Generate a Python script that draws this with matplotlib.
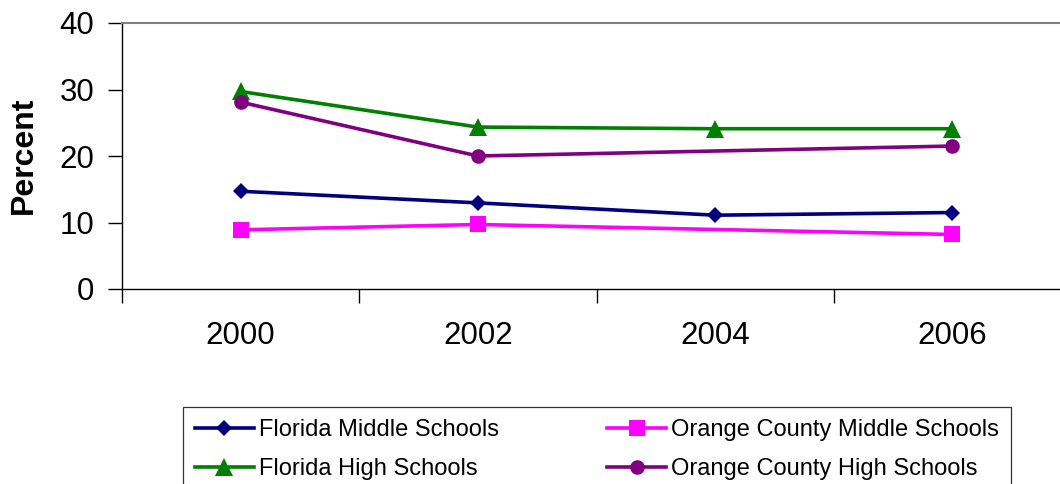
import numpy as np
import matplotlib
matplotlib.use("Agg")
import matplotlib.pyplot as plt

plt.rcParams['font.family'] = ['Liberation Sans', 'DejaVu Sans']

years = ['2000', '2002', '2004', '2006']
fl_middle = [14.7, 12.95, 11.1, 11.5]
oc_middle = [8.9, 9.7, np.nan, 8.2]
fl_high = [29.7, 24.35, 24.1, 24.1]
oc_high = [28.1, 20.0, np.nan, 21.5]

series = [
    ('Florida Middle Schools', fl_middle, '#000080', 'D', 8.5),
    ('Orange County Middle Schools', oc_middle, '#FF00FF', 's', 11),
    ('Florida High Schools', fl_high, '#008000', '^', 13),
    ('Orange County High Schools', oc_high, '#800080', 'o', 10.5),
]

W, H = 1060, 484
fig = plt.figure(figsize=(W / 100, H / 100), dpi=100)
ax = fig.add_axes([122 / W, 1 - 289 / H, 949 / W, (289 - 23) / H])

x = np.arange(len(years))
for name, vals, col, mk, ms in series:
    v = np.array(vals, dtype=float)
    ok = ~np.isnan(v)
    ax.plot(x[ok], v[ok], color=col, lw=2.6, marker=mk, ms=ms,
            markeredgewidth=0, label=name)

ax.set_xlim(-0.5, 3.5)
ax.set_ylim(0, 40)
ax.set_yticks([0, 10, 20, 30, 40])
ax.tick_params(axis='y', labelsize=22.5, length=10, width=1, pad=10, direction='out')

# tick marks sit on the category boundaries, labels in the middle
ax.set_xticks([-0.5, 0.5, 1.5, 2.5, 3.5])
ax.set_xticklabels([])
ax.set_xticks(x, labels=years, minor=True)
ax.tick_params(axis='x', which='major', length=10, width=1, direction='out')
ax.tick_params(axis='x', which='minor', length=0, labelsize=22.5, pad=23)

ax.spines['top'].set_color('#808080')
ax.spines['top'].set_linewidth(1.5)
ax.spines['right'].set_visible(False)
ax.spines['left'].set_linewidth(1)
ax.spines['bottom'].set_linewidth(1)

fig.text(23.5 / W, 1 - 155 / H, 'Percent', rotation=90, ha='center', va='center',
         fontsize=23, fontweight='bold')

h, l = ax.get_legend_handles_labels()
order = [0, 2, 1, 3]
leg = fig.legend([h[i] for i in order], [l[i] for i in order], ncol=2,
                 loc='upper left', bbox_to_anchor=(183 / W, 1 - 407 / H),
                 borderaxespad=0, frameon=True, fancybox=False,
                 prop={'size': 17},
                 handlelength=2.5, handletextpad=0.2, columnspacing=4.6,
                 labelspacing=0.72, borderpad=0.5)
leg.get_frame().set_edgecolor('black')
leg.get_frame().set_linewidth(0.9)

fig.savefig('out.png', dpi=100)
